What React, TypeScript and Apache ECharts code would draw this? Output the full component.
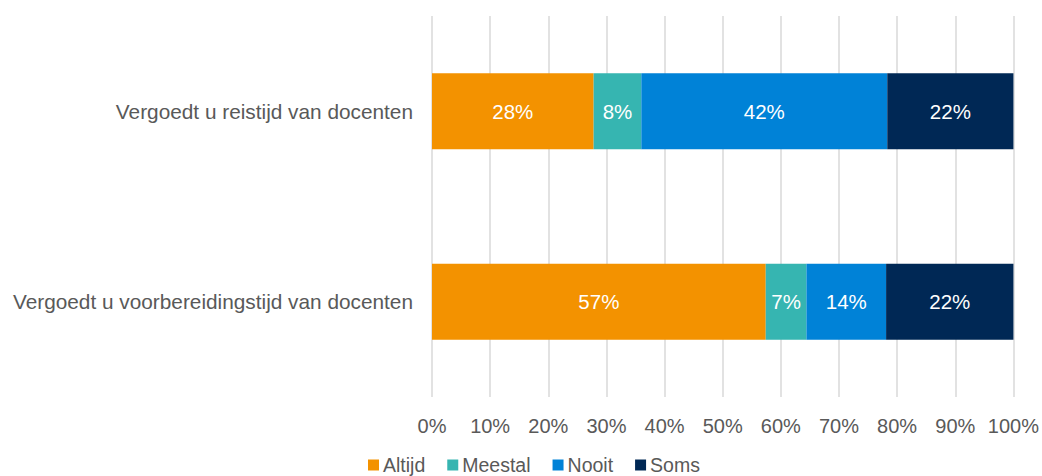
import React, { useEffect, useRef } from "react";
import * as echarts from "echarts";

const categories = [
  "Vergoedt u voorbereidingstijd van docenten",
  "Vergoedt u reistijd van docenten",
];
const seriesNames = ["Altijd", "Meestal", "Nooit", "Soms"];
const altijd = [57.4, 27.8];
const meestal = [7.0, 8.2];
const nooit = [13.7, 42.3];
const soms = [21.9, 21.7];
const colors = ["#F39200", "#36B5B1", "#0082D7", "#002855"];

export default function App() {
  const ref = useRef<HTMLDivElement>(null);
  useEffect(() => {
    if (!ref.current) return;
    const chart = echarts.init(ref.current, null, { renderer: "svg" });
    const values = [altijd, meestal, nooit, soms];
    const font = "Liberation Sans, Arial, sans-serif";
    chart.setOption({
      animation: false,
      textStyle: { fontFamily: font },
      grid: { left: 432, right: 27, top: 16, bottom: 79 },
      legend: {
        left: 368,
        top: 455,
        padding: 0,
        itemWidth: 11,
        itemHeight: 11,
        itemGap: 22,
        icon: "rect",
        textStyle: {
          color: "#595959",
          fontSize: 19.5,
          lineHeight: 17,
          fontFamily: font,
          padding: [0, 0, 0, -1],
        },
        data: seriesNames,
      },
      xAxis: {
        type: "value",
        min: 0,
        max: 100,
        interval: 10,
        axisLine: { show: false },
        axisTick: { show: false },
        splitLine: { lineStyle: { color: "#D9D9D9", width: 1.5 } },
        axisLabel: {
          color: "#595959",
          fontSize: 20,
          margin: 19,
          formatter: (v: number) => v + "%",
        },
      },
      yAxis: {
        type: "category",
        data: categories,
        axisLine: { show: false },
        axisTick: { show: false },
        axisLabel: { color: "#595959", fontSize: 20.8, margin: 19 },
      },
      series: seriesNames.map((name, i) => ({
        name,
        type: "bar",
        stack: "total",
        barWidth: 76,
        data: values[i],
        itemStyle: { color: colors[i] },
        label: {
          show: true,
          color: "#FFFFFF",
          fontSize: 20.5,
          formatter: (p: any) => Math.round(p.value) + "%",
        },
      })),
    });
    return () => chart.dispose();
  }, []);
  return <div ref={ref} style={{ width: 1042, height: 476, position: "absolute", left: 0, top: 0 }} />;
}
